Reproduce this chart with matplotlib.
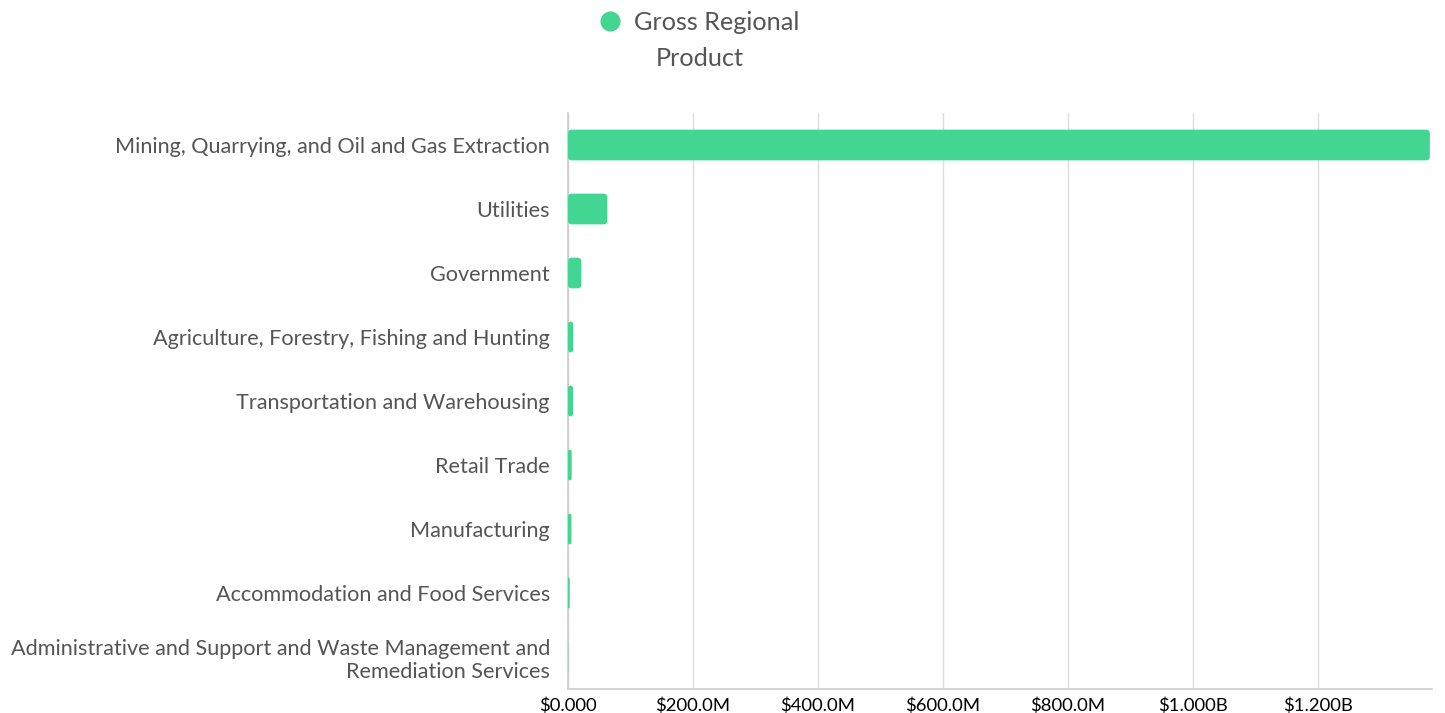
import matplotlib.pyplot as plt
from matplotlib.lines import Line2D
from matplotlib.patches import FancyBboxPatch
from matplotlib.ticker import FuncFormatter, MultipleLocator

plt.rcParams['font.family'] = ['Lato', 'DejaVu Sans']

industries = [
    'Mining, Quarrying, and Oil and Gas Extraction',
    'Utilities',
    'Government',
    'Agriculture, Forestry, Fishing and Hunting',
    'Transportation and Warehousing',
    'Retail Trade',
    'Manufacturing',
    'Accommodation and Food Services',
    'Administrative and Support and Waste Management and\nRemediation Services',
]
# gross regional product, USD
grp = [1.379e9, 63.0e6, 21.4e6, 8.4e6, 8.2e6, 5.9e6, 5.5e6, 2.7e6, 0.4e6]
series_name = 'Gross Regional Product'

green = '#43d692'
text_col = '#555555'
grid_col = '#dddddd'


def money(v, pos=None):
    if v == 0:
        return '$0.000'
    if abs(v) >= 1e9:
        return f'${v / 1e9:.3f}B'
    return f'${v / 1e6:.1f}M'


fig = plt.figure(figsize=(14.45, 7.13), dpi=100)
W, H = 1445, 713
ax = fig.add_axes([568 / W, 1 - 689 / H, (1432 - 568) / W, (689 - 113) / H])

ypos = range(len(industries))
xmax = 1.3824e9
ax.set_ylim(len(industries) - 0.5, -0.5)
ax.set_xlim(0, xmax)

# bars from barh, then swapped for rounded boxes of the same extent
bars = ax.barh(ypos, grp, height=0.48, color=green, zorder=3)
px_x = xmax / (1432 - 568)       # data units per pixel, x
px_y = len(industries) / (689 - 113)  # data units per pixel, y
for b in bars:
    w, h = b.get_width(), b.get_height()
    r = min(4 * px_x, w / 2)
    if w <= 0:
        continue
    box = FancyBboxPatch((b.get_x(), b.get_y()), w, h,
                         boxstyle=f'round,pad=0,rounding_size={r}',
                         mutation_aspect=px_y / px_x,
                         facecolor=green, edgecolor='none', zorder=3)
    ax.add_patch(box)
    b.set_visible(False)

ax.set_yticks(list(ypos))
ax.set_yticklabels(industries, fontsize=15.6, color=text_col, linespacing=1.2)
ax.xaxis.set_major_locator(MultipleLocator(200e6))
ax.xaxis.set_major_formatter(FuncFormatter(money))
ax.tick_params(axis='x', labelsize=13.3, colors='black', length=0, pad=6)
ax.tick_params(axis='y', length=0, pad=13)
ax.grid(axis='x', color=grid_col, linewidth=1, zorder=0)

for side in ['top', 'right']:
    ax.spines[side].set_visible(False)
for side in ['left', 'bottom']:
    ax.spines[side].set_color('#cccccc')
    ax.spines[side].set_linewidth(1.2)

# legend drawn by hand so the wrapped label matches
fig.add_artist(Line2D([610 / W], [1 - 21 / H], marker='o', markersize=13.5,
                      color=green, linestyle='None', transform=fig.transFigure))
fig.text(634 / W, 1 - 23 / H, 'Gross Regional', fontsize=18.2, color=text_col,
         ha='left', va='center')
fig.text(700 / W, 1 - 59 / H, 'Product', fontsize=18.2, color=text_col,
         ha='center', va='center')

fig.savefig('out.png', dpi=100)
